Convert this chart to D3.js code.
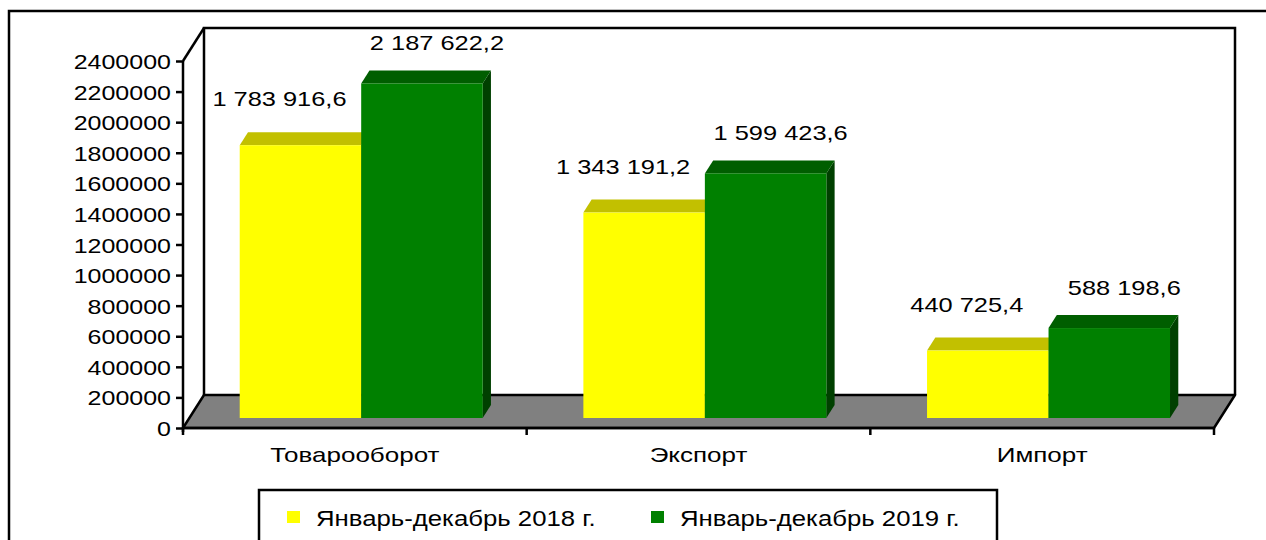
<!DOCTYPE html>
<html><head><meta charset="utf-8">
<script src="https://cdn.jsdelivr.net/npm/d3@7"></script>
<style>
html,body{margin:0;padding:0;background:#fff;overflow:hidden;}
text{font-family:"Liberation Sans",Arial,sans-serif;fill:#000;}
</style></head>
<body><svg id="c" width="1266" height="540"></svg>
<script>
const categories = ["Товарооборот", "Экспорт", "Импорт"];
const seriesNames = ["Январь-декабрь 2018 г.", "Январь-декабрь 2019 г."];
const values2018 = [1783916.6, 1343191.2, 440725.4];
const values2019 = [2187622.2, 1599423.6, 588198.6];
const yTickValues = [0, 200000, 400000, 600000, 800000, 1000000, 1200000, 1400000, 1600000, 1800000, 2000000, 2200000, 2400000];

const series = [
  {name: seriesNames[0], values: values2018, front: "#FFFF00", top: "#C2C000", side: "#9A9A00", labelShift: -21, labelGap: 39},
  {name: seriesNames[1], values: values2019, front: "#008000", top: "#005E00", side: "#004000", labelShift: 15, labelGap: 33}
];

const svg = d3.select("#c");
const X0 = 183, X1 = 1214, Y0 = 428, YT = 61;
const DX = 21, DY = 33;              // depth shift of the 3D box
const fB = 10 / 33, fK = 23 / 33;    // bar front / back depth fractions

const y = d3.scaleLinear().domain([0, 2400000]).range([Y0, YT]);
const x = d3.scaleBand().domain(categories).range([X0, X1]).paddingInner(0.293).paddingOuter(0.1465);
const xs = d3.scaleBand().domain(seriesNames).range([0, x.bandwidth()]);

const fmt = d3.formatLocale({decimal: ",", thousands: " ", grouping: [3], currency: ["", ""]}).format(",.1f");

function txt(g, s, tx, ty, sx, anchor, size) {
  return g.append("text")
    .attr("transform", `translate(${tx},${ty}) scale(${sx},1)`)
    .attr("text-anchor", anchor)
    .style("font-size", (size || 20) + "px")
    .text(s);
}

// outer frame
svg.append("rect").attr("x", 9).attr("y", 11).attr("width", 1300).attr("height", 600)
  .attr("fill", "none").attr("stroke", "#000").attr("stroke-width", 2.5);

// back wall
const bx0 = X0 + DX, bx1 = X1 + DX, byT = YT - DY, byB = Y0 - DY;
svg.append("rect").attr("x", bx0).attr("y", byT).attr("width", bx1 - bx0).attr("height", byB - byT)
  .attr("fill", "#fff");
svg.append("path").attr("d", `M${bx0},${byB}V${byT}H${bx1}V${byB}`)
  .attr("fill", "none").attr("stroke", "#000").attr("stroke-width", 2.5);

// floor
svg.append("path").attr("d", `M${X0},${Y0}L${X1},${Y0}L${bx1},${byB}L${bx0},${byB}Z`)
  .attr("fill", "#808080").attr("stroke", "#000").attr("stroke-width", 2.5).attr("stroke-linejoin", "round");

// left wall top edge
svg.append("line").attr("x1", X0).attr("y1", YT).attr("x2", bx0).attr("y2", byT)
  .attr("stroke", "#000").attr("stroke-width", 2.5);

// y axis
const yAxis = svg.append("g").attr("transform", `translate(${X0},0)`)
  .call(d3.axisLeft(y).tickValues(yTickValues).tickSize(7).tickFormat(d3.format("d")));
yAxis.select(".domain").attr("d", `M0,${YT}V${Y0 + 4}`).attr("stroke", "#000").attr("stroke-width", 2.5);
yAxis.selectAll(".tick line").attr("stroke", "#000").attr("stroke-width", 2.5);
yAxis.selectAll(".tick text").remove();
yTickValues.forEach(v => txt(svg, d3.format("d")(v), 171, y(v) + 8, 1.22, "end", 20.5));

// x axis ticks (category boundaries)
const step = x.step();
const xTicks = d3.range(categories.length + 1).map(i => X0 + i * step);
svg.selectAll(".xt").data(xTicks).enter().append("line")
  .attr("x1", d => d).attr("x2", d => d).attr("y1", Y0).attr("y2", Y0 + 7)
  .attr("stroke", "#000").attr("stroke-width", 2.5);
svg.append("line").attr("x1", X0).attr("x2", X1).attr("y1", Y0).attr("y2", Y0)
  .attr("stroke", "#000").attr("stroke-width", 2.5);

// bars
const bars = svg.append("g");
categories.forEach((c, i) => {
  series.forEach(s => {
    const v = s.values[i];
    const w = xs.bandwidth();
    const xl = x(c) + xs(s.name);
    const xr = xl + w;
    const yv = y(v), yb = y(0);
    const fx = fB * DX, fy = fB * DY, kx = fK * DX, ky = fK * DY;
    bars.append("path").attr("d",
      `M${xr + fx},${yv - fy}L${xr + kx},${yv - ky}L${xr + kx},${yb - ky}L${xr + fx},${yb - fy}Z`)
      .attr("fill", s.side);
    bars.append("path").attr("d",
      `M${xl + fx},${yv - fy}L${xr + fx},${yv - fy}L${xr + kx},${yv - ky}L${xl + kx},${yv - ky}Z`)
      .attr("fill", s.top);
    bars.append("rect").attr("x", xl + fx).attr("y", yv - fy).attr("width", w).attr("height", yb - yv)
      .attr("fill", s.front);
  });
});

// value labels
categories.forEach((c, i) => {
  series.forEach(s => {
    const v = s.values[i];
    const cx = x(c) + xs(s.name) + xs.bandwidth() / 2 + fB * DX + s.labelShift;
    txt(svg, fmt(v), cx, y(v) - fB * DY - s.labelGap, 1.21, "middle", 21);
  });
});

// category labels
categories.forEach(c => {
  txt(svg, c, x(c) + x.bandwidth() / 2, 462, 1.3, "middle", 20);
});

// legend
const lg = svg.append("g");
lg.append("rect").attr("x", 259).attr("y", 490).attr("width", 738).attr("height", 100)
  .attr("fill", "#fff").attr("stroke", "#000").attr("stroke-width", 2.5);
const legX = [287, 651];
series.forEach((s, j) => {
  lg.append("rect").attr("x", legX[j]).attr("y", 511).attr("width", 13).attr("height", 12).attr("fill", s.front);
  txt(lg, s.name, legX[j] + 29, 526, 1.17, "start", 22);
});
</script></body></html>
